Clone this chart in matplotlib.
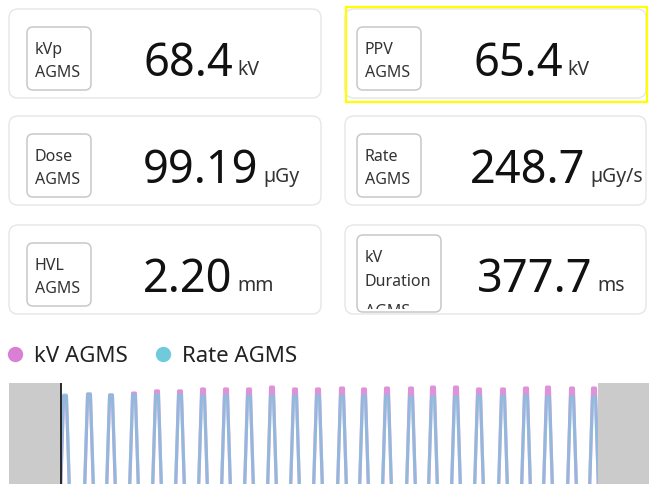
import matplotlib.pyplot as plt
from matplotlib.patches import FancyBboxPatch, Rectangle
from matplotlib.lines import Line2D
from matplotlib.transforms import Bbox, TransformedBbox

plt.rcParams['font.family'] = ['Noto Sans', 'DejaVu Sans']

# 카드 데이터 (2열 x 3행)
labels = [["kVp", "AGMS"], ["PPV", "AGMS"],
          ["Dose", "AGMS"], ["Rate", "AGMS"],
          ["HVL", "AGMS"], ["kV", "Duration", "AGMS"]]
values = ["68.4", "65.4", "99.19", "248.7", "2.20", "377.7"]
units = ["kV", "kV", "µGy", "µGy/s", "mm", "ms"]

# 파형 데이터 : 펄스 시각(ms), 피크값
pulse_t = [56, 80, 102, 125, 148, 171, 194, 217, 240, 263, 286, 309,
           333, 355, 378, 402, 424, 447, 470, 494, 517, 539, 563, 585]
kv_peak = [66.6, 67.4, 67.0, 67.8, 68.7, 68.7, 69.5, 69.5, 69.5, 70.3, 69.5, 69.5,
           69.9, 69.5, 69.9, 69.9, 70.3, 70.3, 69.5, 69.5, 69.9, 70.3, 69.9, 69.9]
rate_peak = [249.8, 251.5, 249.8, 249.8, 249.8, 249.8, 248.1, 248.1, 248.1, 248.1, 248.1, 248.1,
             248.1, 248.1, 248.1, 246.4, 246.4, 246.4, 248.1, 248.1, 248.1, 246.4, 246.4, 246.4]
view_start, view_end = 52, 589   # 선택 구간 (회색 마스크 바깥)

KV_COLOR = '#d97fd4'
RATE_COLOR = '#6fcbdc'

W, H = 649, 485
fig = plt.figure(figsize=(W / 100, H / 100), dpi=100)

# 배경 axes : 픽셀 좌표 그대로 사용
bg = fig.add_axes([0, 0, 1, 1])
bg.set_xlim(0, W)
bg.set_ylim(H, 0)
bg.axis('off')

col_x = [9, 345]
col_w = [312, 301]
row_y = [10, 117, 226]
card_h = 89
value_x = [143, 473, 143, 470, 143, 477]

renderer = fig.canvas.get_renderer()

for i in range(6):
    r, c = divmod(i, 2)
    x0, y0 = col_x[c], row_y[r]
    card = FancyBboxPatch((x0, y0), col_w[c], card_h,
                          boxstyle='round,pad=0,rounding_size=9',
                          fc='white', ec='#e6e6e6', lw=1.0)
    bg.add_patch(card)

    # 라벨 박스
    lx = 27 if c == 0 else 357
    lw_box = 84 if i == 5 else 64
    ly = y0 + (10 if i == 5 else 18)
    lh = 77 if i == 5 else 63
    lbox = FancyBboxPatch((lx, ly), lw_box, lh,
                          boxstyle='round,pad=0,rounding_size=6',
                          fc='white', ec='#c8c8c8', lw=1.1)
    bg.add_patch(lbox)
    # 박스 밖으로 넘치는 글자는 잘림
    clip = TransformedBbox(Bbox([[lx, ly + 1], [lx + lw_box, ly + lh - 3]]), bg.transData)
    step = 24 if i == 5 else 23
    for k, line in enumerate(labels[i]):
        t = bg.text(lx + 8, ly + 26 + step * k + (6 if k == 2 else 0), line,
                    fontsize=11.5, color='#333333', va='baseline', ha='left',
                    clip_on=True)
        t.set_clip_box(clip)

    # 값 + 단위
    base = y0 + 66
    vt = bg.text(value_x[i], base, values[i], fontsize=32.5, color='#111111',
                 va='baseline', ha='left')
    ext = vt.get_window_extent(renderer)
    bg.text(ext.x1 + 5, base - 1, units[i], fontsize=14, color='#333333',
            va='baseline', ha='left')

# 선택된 카드 노란 테두리
bg.add_patch(Rectangle((346, 8), 301, 95, fill=False, ec='#ffff00', lw=1.6))

# 범례
handles = [Line2D([], [], ls='', marker='o', ms=10, color=KV_COLOR),
           Line2D([], [], ls='', marker='o', ms=10, color=RATE_COLOR)]
fig.legend(handles, ['kV AGMS', 'Rate AGMS'], loc='center left',
           bbox_to_anchor=(4.0 / W, 1 - 357 / H), ncol=2, frameon=False,
           fontsize=16, handlelength=1.0, handletextpad=0.35, columnspacing=1.1,
           borderpad=0, borderaxespad=0, labelcolor='#222222')

# 파형 차트
ax = fig.add_axes([9 / W, 0, 640 / W, 101 / H])
ax2 = ax.twinx()

TOP, RISE = 1.4, 5.0   # 펄스 모양 (ms)


def pulse_line(times, peaks):
    xs, ys = [], []
    for t, p in zip(times, peaks):
        xs += [t - TOP - RISE, t - TOP, t + TOP, t + TOP + RISE]
        ys += [0, p, p, 0]
    return xs, ys


kx, ky = pulse_line(pulse_t, kv_peak)
rx, ry = pulse_line(pulse_t, rate_peak)
ax.plot(kx, ky, color=KV_COLOR, lw=2.3, alpha=0.85, solid_joinstyle='round')
ax2.plot(rx, ry, color=RATE_COLOR, lw=2.3, alpha=0.65, solid_joinstyle='round')

ax.set_xlim(0, 640)
ax2.set_xlim(0, 640)
ax.set_ylim(30, 72)
ax2.set_ylim(100, 270)

ax2.axvspan(0, view_start, color='#cbcbcb', lw=0, zorder=5)
ax2.axvspan(view_end, 640, color='#cbcbcb', lw=0, zorder=5)
ax2.axvline(view_start, color='#1a1a1a', lw=1.3, zorder=6)

for a in (ax, ax2):
    a.axis('off')

fig.savefig('out.png', dpi=100)
